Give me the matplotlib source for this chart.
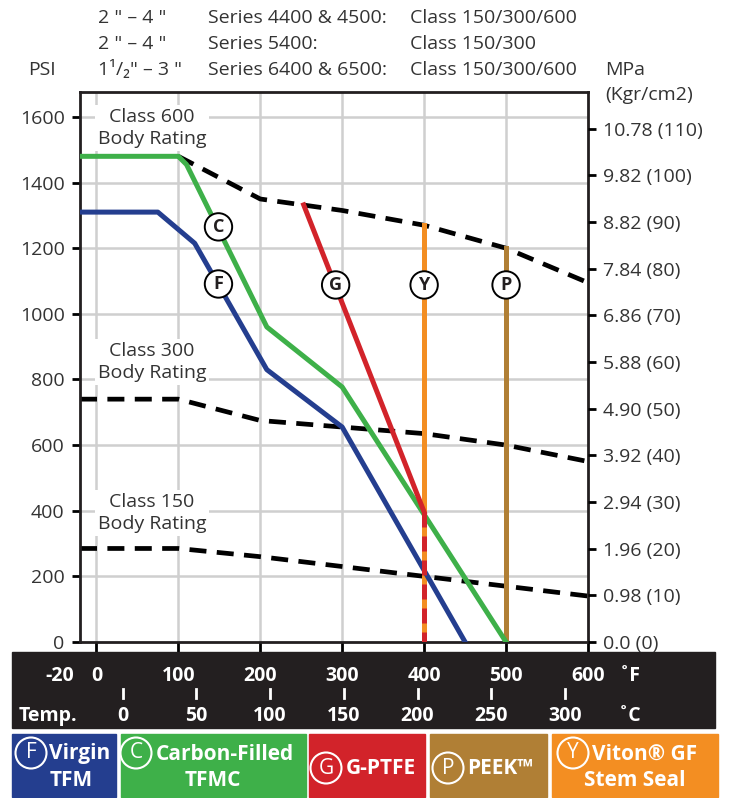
import numpy as np
import matplotlib.pyplot as plt
from matplotlib import transforms
from matplotlib.patches import Rectangle
from matplotlib.lines import Line2D

plt.rcParams['font.family'] = ['Open Sans', 'DejaVu Sans']

# body ratings (deg F / psi)
temp_class = [-20, 100, 200, 300, 400, 500, 600]
class600 = [1480, 1480, 1350, 1315, 1270, 1200, 1095]
class300 = [740, 740, 675, 655, 635, 600, 550]
class150 = [285, 285, 260, 230, 200, 170, 140]

# seat ratings
tfm_t = [-20, 75, 120, 208, 300, 450]
tfm_p = [1310, 1310, 1215, 830, 655, 0]
tfmc_t = [-20, 100, 110, 208, 300, 500]
tfmc_p = [1480, 1480, 1455, 960, 777, 0]
gptfe_t = [253, 400]
gptfe_p = [1332, 396]
gptfe_low_t = [400, 400]
gptfe_low_p = [396, 0]
viton_t = [400, 400]
viton_p = [1271, 0]
peek_t = [500, 500]
peek_p = [1201, 0]

kgf_ticks = [0, 10, 20, 30, 40, 50, 60, 70, 80, 90, 100, 110]
mpa_labels = ['0.0', '0.98', '1.96', '2.94', '3.92', '4.90', '5.88', '6.86',
              '7.84', '8.82', '9.82', '10.78']
f_ticks = [0, 100, 200, 300, 400, 500, 600]
c_ticks = [0, 50, 100, 150, 200, 250, 300]

BLUE = '#243e8f'
GREEN = '#3eb049'
RED = '#d2232a'
BROWN = '#b07f35'
ORANGE = '#f38e22'
DARK = '#231f20'
TXT = '#333333'

W, H = 730, 798
fig = plt.figure(figsize=(W / 100, H / 100), dpi=100)


def fx(x):
    return x / W


def fy(y):
    return 1 - y / H


ax = fig.add_axes([fx(80), fy(642), fx(588) - fx(80), fy(92) - fy(642)])
ax.set_xlim(-20, 600)
ax.set_ylim(0, 1676)

for t in [0, 100, 200, 300, 400, 500]:
    ax.axvline(t, color='#cfcfcf', lw=1.8, zorder=0)
for p in range(200, 1700, 200):
    ax.axhline(p, color='#cfcfcf', lw=1.8, zorder=0)

dash = dict(color='black', lw=3.4, dashes=(3.6, 2.2), zorder=2)
ax.plot(temp_class[1:], class600[1:], **dash)
ax.plot(temp_class, class300, **dash)
ax.plot(temp_class, class150, **dash)

ax.plot(viton_t, viton_p, color=ORANGE, lw=3.6, zorder=3)
ax.plot(peek_t, peek_p, color=BROWN, lw=3.6, zorder=3)
ax.plot(tfm_t, tfm_p, color=BLUE, lw=3.6, zorder=3)
ax.plot(tfmc_t, tfmc_p, color=GREEN, lw=3.6, zorder=3)
ax.plot(gptfe_t, gptfe_p, color=RED, lw=3.6, zorder=3)
ax.plot(gptfe_low_t, gptfe_low_p, color=RED, lw=3.6, dashes=(3, 1.8), zorder=4)

circ = dict(boxstyle='circle,pad=0.26', fc='white', ec='black', lw=1.4)
for x, y, s in [(149, 1265, 'C'), (149, 1091, 'F'), (292, 1088, 'G'),
                (400, 1088, 'Y'), (500, 1088, 'P')]:
    ax.text(x, y, s, ha='center', va='center', fontsize=13, fontweight='bold',
            color=DARK, bbox=circ, zorder=6)

box = dict(fc='white', ec='none', pad=2)
for y, s in [(1567, 'Class 600\nBody Rating'), (854, 'Class 300\nBody Rating'),
             (393, 'Class 150\nBody Rating')]:
    ax.text(68, y, s, ha='center', va='center', fontsize=14, color=TXT,
            linespacing=1.3, bbox=box, zorder=5)

for s in ax.spines.values():
    s.set_linewidth(2)
    s.set_color(DARK)
ax.set_yticks(range(0, 1700, 200))
ax.tick_params(axis='y', direction='out', length=6, width=2, labelsize=14,
               labelcolor=TXT, pad=5)
ax.set_xticks(f_ticks)
ax.set_xticklabels([])
ax.tick_params(axis='x', direction='out', length=8, width=2)

ax2 = ax.twinx()
ax2.set_ylim(ax.get_ylim())
ax2.set_yticks([k * 14.223 for k in kgf_ticks])
ax2.set_yticklabels(['%s (%d)' % (m, k) for m, k in zip(mpa_labels, kgf_ticks)])
ax2.tick_params(axis='y', direction='out', length=6, width=2, labelsize=14,
                labelcolor=TXT, pad=5)
for s in ax2.spines.values():
    s.set_visible(False)

# header
hdr = dict(fontsize=14, color=TXT, va='center', ha='left')
rows = [('2 " – 4 "', 'Series 4400 & 4500:', 'Class 150/300/600'),
        ('2 " – 4 "', 'Series 5400:', 'Class 150/300'),
        ('1¹/₂" – 3 "', 'Series 6400 & 6500:', 'Class 150/300/600')]
for yy, (a, b, c) in zip([18, 44, 70], rows):
    fig.text(fx(98), fy(yy), a, **hdr)
    fig.text(fx(208), fy(yy), b, **hdr)
    fig.text(fx(410), fy(yy), c, **hdr)
fig.text(fx(28), fy(70), 'PSI', **hdr)
fig.text(fx(605), fy(70), 'MPa', **hdr)
fig.text(fx(605), fy(95), '(Kgr/cm2)', **hdr)

# temperature band
fig.patches.append(Rectangle((fx(12), fy(728)), fx(715) - fx(12), fy(652) - fy(728),
                             transform=fig.transFigure, color=DARK, zorder=0))
tr = transforms.blended_transform_factory(ax.transData, fig.transFigure)
band = dict(fontsize=14, fontweight='bold', color='white', va='center', ha='center')
for t in f_ticks:
    fig.text(t, fy(676), str(t), transform=tr, **band)
fig.text(fx(60), fy(676), '-20', **band)
fig.text(fx(630), fy(676), '˚F', **band)
for c in c_ticks:
    t = c * 1.8 + 32
    fig.add_artist(Line2D([t, t], [fy(689), fy(698)], transform=tr, color='white', lw=2))
    fig.text(t, fy(716), str(c), transform=tr, **band)
fig.text(fx(48), fy(716), 'Temp.', **band)
fig.text(fx(630), fy(716), '˚C', **band)

# legend boxes: x0, x1, colour, letter, circle x, text x, second line x
legend = [(12, 116, BLUE, 'F', 31, 49, 71, ['Virgin', 'TFM']),
          (121, 306, GREEN, 'C', 136, 156, 213, ['Carbon-Filled', 'TFMC']),
          (309, 425, RED, 'G', 326, 346, 0, ['G-PTFE']),
          (430, 547, BROWN, 'P', 448, 467, 0, ['PEEK™']),
          (552, 718, ORANGE, 'Y', 573, 592, 635, ['Viton® GF', 'Stem Seal'])]
wcirc = dict(boxstyle='circle,pad=0.24', fc='none', ec='white', lw=1.5)
for x0, x1, col, letter, cx, tx, sx, lines in legend:
    fig.patches.append(Rectangle((fx(x0), fy(797)), fx(x1) - fx(x0), fy(734) - fy(797),
                                 transform=fig.transFigure, color=col, zorder=0))
    ly = 753 if len(lines) == 2 else 768
    fig.text(fx(cx), fy(ly), letter, fontsize=15, color='white',
             ha='center', va='center', bbox=wcirc)
    fig.text(fx(tx), fy(ly + 1), lines[0], fontsize=15, fontweight='bold',
             color='white', ha='left', va='center')
    if len(lines) == 2:
        fig.text(fx(sx), fy(780), lines[1], fontsize=15, fontweight='bold',
                 color='white', ha='center', va='center')

fig.savefig('out.png', dpi=100)
